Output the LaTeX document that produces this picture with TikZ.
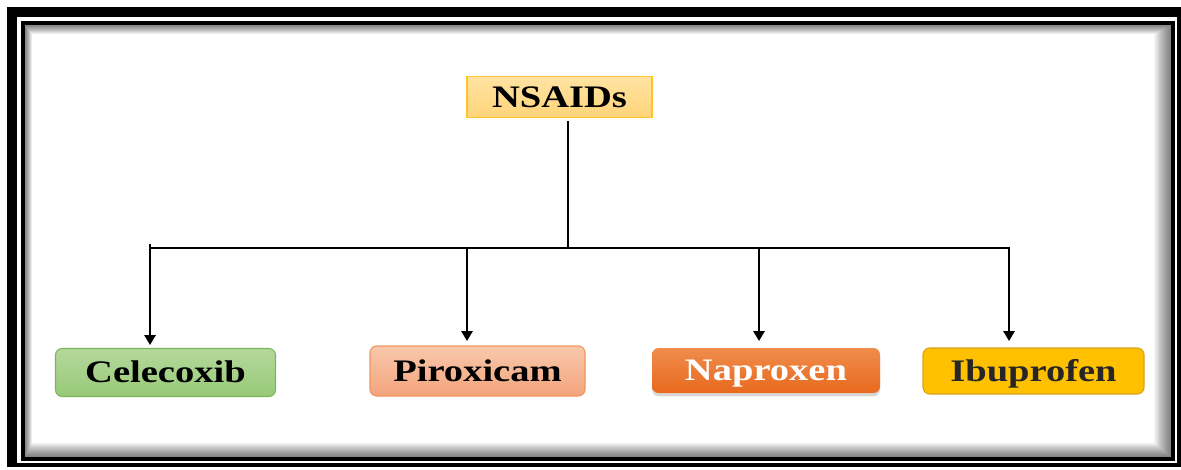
\documentclass[tikz,border=0pt]{standalone}
\usepackage{fontspec}
\setmainfont{Liberation Serif}[FakeStretch=1.23]
\usetikzlibrary{arrows.meta,shadows}

\definecolor{frameblack}{HTML}{000000}
\definecolor{rootTop}{HTML}{FFE3A3}
\definecolor{rootBot}{HTML}{FFD47A}
\definecolor{rootLine}{HTML}{FFC32E}
\definecolor{greenTop}{HTML}{B5D99C}
\definecolor{greenBot}{HTML}{97C977}
\definecolor{greenLine}{HTML}{7DB65A}
\definecolor{salmonTop}{HTML}{F8C8AC}
\definecolor{salmonBot}{HTML}{F3A47C}
\definecolor{salmonLine}{HTML}{F0955E}
\definecolor{orangeTop}{HTML}{F08C4C}
\definecolor{orangeBot}{HTML}{E8691E}
\definecolor{goldFill}{HTML}{FFC000}
\definecolor{goldLine}{HTML}{D8A31A}
\definecolor{darktext}{HTML}{262626}

\tikzset{
  label font/.style={font=\fontsize{23.5}{26}\selectfont\bfseries},
  drugbox/.style={label font, inner sep=0pt, text height=15.6pt, text depth=0pt,
    rounded corners=5pt, line width=0.8pt},
  rootbox/.style={label font, inner sep=0pt, text height=15.6pt, text depth=0pt,
    draw=rootLine, line width=0.8pt, top color=rootTop, bottom color=rootBot,
    minimum width=138.75pt, minimum height=30.75pt},
  conn/.style={line width=1.5pt, black},
  arrowc/.style={conn, -{Triangle[width=8.5pt,length=7.5pt]}},
}

\begin{document}
\begin{tikzpicture}[x=0.75pt,y=-0.75pt]
\useasboundingbox (0,0) rectangle (1181,470);
\fill[white] (0,0) rectangle (1181,470);

% double frame
\fill[frameblack] (7,7) rectangle (1181,467);
\fill[white] (17,17) rectangle (1177,463);
\fill[frameblack] (21,21) rectangle (1175,461);
\fill[white] (25,25) rectangle (1171,457);
% inner shadow along the frame
\foreach \k in {1,...,14}{
  \fill[black,opacity=0.045,even odd rule]
    (25,25) rectangle (1171,457)
    ({25+\k*0.5},{25+\k*0.65}) rectangle ({1171-\k*1.2},{457-\k*1.0});
}

% nodes
\node[rootbox] (root) at (559.5,97) {NSAIDs};

\node[drugbox, draw=greenLine, top color=greenTop, bottom color=greenBot,
      minimum width=165pt, minimum height=36pt] (cel) at (165.5,372.5) {Celecoxib};
\node[drugbox, draw=salmonLine, top color=salmonTop, bottom color=salmonBot,
      minimum width=161.25pt, minimum height=37.5pt] (pir) at (477.5,371) {Piroxicam};
\node[drugbox, draw=none, top color=orangeTop, bottom color=orangeBot, text=white,
      drop shadow={opacity=0.3, shadow xshift=0pt, shadow yshift=-2.5pt},
      minimum width=171pt, minimum height=33.75pt] (nap) at (766,370.5) {Naproxen};
\node[drugbox, draw=goldLine, fill=goldFill, text=darktext,
      minimum width=165.75pt, minimum height=34.5pt] (ibu) at (1033.5,371) {Ibuprofen};

% connector points
\coordinate (hub) at (568,248);
\coordinate (barL) at (150,248);
\coordinate (barR) at (1009,248);
\coordinate (brP) at (467,248);
\coordinate (brN) at (759,248);
\coordinate (inC) at (150,345);
\coordinate (inP) at (467,341);
\coordinate (inN) at (759,341);
\coordinate (inI) at (1009,341);

\draw[conn] ([yshift=-2.2pt]root.south -| hub) -- (hub);
\draw[conn, line cap=rect] ([yshift=2pt]barL) -- (barL) -- (barR);
\draw[arrowc] (barL) -- (inC);
\draw[arrowc] (brP) -- (inP);
\draw[arrowc] (brN) -- (inN);
\draw[arrowc] (barR) -- (inI);
\end{tikzpicture}
\end{document}
